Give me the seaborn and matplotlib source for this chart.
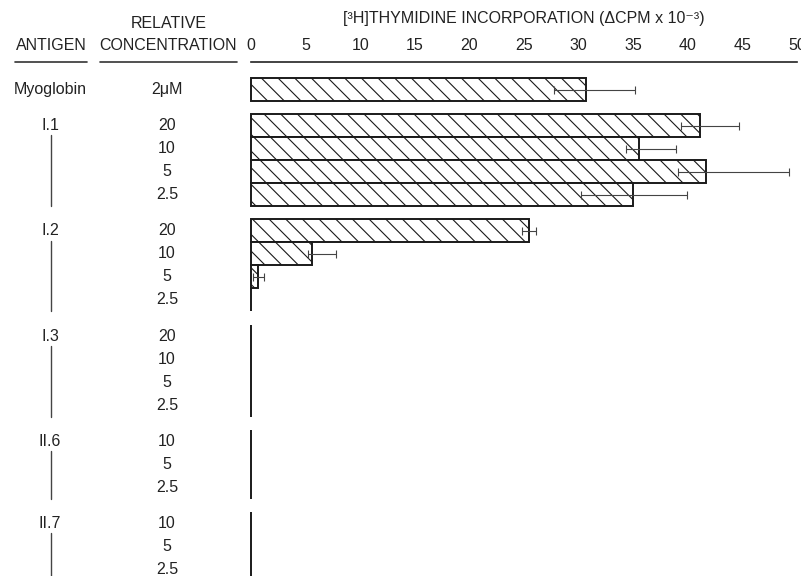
import numpy as np
import pandas as pd
import matplotlib.pyplot as plt
import matplotlib.transforms as mtransforms
import seaborn as sns

# data
antigen_groups = ["Myoglobin", "I.1", "I.2", "I.3", "II.6", "II.7"]
group_sizes = [1, 4, 4, 4, 3, 3]
concentrations = ["2μM",
                  "20", "10", "5", "2.5",
                  "20", "10", "5", "2.5",
                  "20", "10", "5", "2.5",
                  "10", "5", "2.5",
                  "10", "5", "2.5"]
cpm = [30.7,
       41.1, 35.5, 41.6, 35.0,
       25.4, 5.55, 0.67, 0.0,
       0.0, 0.0, 0.0, 0.0,
       0.0, 0.0, 0.0,
       0.0, 0.0, 0.0]
err_low = [27.7,
           39.4, 34.3, 39.1, 30.2,
           24.8, 5.25, 0.2, np.nan,
           np.nan, np.nan, np.nan, np.nan,
           np.nan, np.nan, np.nan,
           np.nan, np.nan, np.nan]
err_high = [35.1,
            44.7, 38.9, 49.2, 39.9,
            26.1, 7.8, 1.2, np.nan,
            np.nan, np.nan, np.nan, np.nan,
            np.nan, np.nan, np.nan,
            np.nan, np.nan, np.nan]
xticks = list(range(0, 51, 5))

# row positions: one unit per row, extra gap between antigen groups
group_index = np.repeat(np.arange(len(group_sizes)), group_sizes)
pos = np.arange(len(cpm)) + 0.57 * group_index

df = pd.DataFrame({"pos": pos, "cpm": cpm, "low": err_low, "high": err_high,
                   "conc": concentrations})

sns.set_style("white")
plt.rcParams['font.family'] = ['Liberation Sans', 'DejaVu Sans']
plt.rcParams['hatch.linewidth'] = 0.8
plt.rcParams['hatch.color'] = '#222222'
text_color = '#222222'
fs = 11.5

fig = plt.figure(figsize=(8.01, 5.76), dpi=100)
ax = fig.add_axes([251 / 801, 0.0, 546.3 / 801, 1 - 62.3 / 576])

sns.barplot(data=df, x="cpm", y="pos", orient="h", native_scale=True,
            width=1, color="white", edgecolor="#1a1a1a", linewidth=1.4,
            hatch="\\\\", errorbar=None, clip_on=False, ax=ax)

# error bars
m = df["low"].notna()
ax.errorbar(df.loc[m, "cpm"], df.loc[m, "pos"],
            xerr=[df.loc[m, "cpm"] - df.loc[m, "low"], df.loc[m, "high"] - df.loc[m, "cpm"]],
            fmt="none", ecolor="#444444", elinewidth=0.8, capsize=3, capthick=0.8)

ax.set_xlim(0, 50)
ax.set_ylim(21.14, -1.19)
ax.set_yticks([])
ax.set_xlabel("")
ax.set_ylabel("")
ax.xaxis.tick_top()
ax.set_xticks(xticks)
ax.set_xticklabels([str(t) for t in xticks])
ax.tick_params(axis='x', direction='in', length=5.5, width=1, pad=7,
               labelsize=fs, colors=text_color)
sns.despine(ax=ax, top=False, right=True, left=True, bottom=True)
ax.spines['top'].set_linewidth(1.2)
ax.spines['top'].set_color('#222222')

# axis title
fig.text(524 / 801, 1 - 19 / 576, "[³H]THYMIDINE INCORPORATION (ΔCPM x 10⁻³)",
         ha='center', va='center', fontsize=fs, color=text_color)

# column headers
fig.text(51 / 801, 1 - 46 / 576, "ANTIGEN", ha='center', va='center',
         fontsize=fs, color=text_color)
fig.text(169 / 801, 1 - 23 / 576, "RELATIVE", ha='center', va='center',
         fontsize=fs, color=text_color)
fig.text(168.5 / 801, 1 - 46 / 576, "CONCENTRATION", ha='center', va='center',
         fontsize=fs, color=text_color)
y_rule = 1 - 61.7 / 576
fig.add_artist(plt.Line2D([15 / 801, 87 / 801], [y_rule, y_rule], color='#333333', lw=1.2))
fig.add_artist(plt.Line2D([100 / 801, 237 / 801], [y_rule, y_rule], color='#333333', lw=1.2))

# row labels
trans = mtransforms.blended_transform_factory(fig.transFigure, ax.transData)
for p, c in zip(df["pos"], df["conc"]):
    ax.text(167 / 801, p, c, transform=trans, ha='center', va='center',
            fontsize=fs, color=text_color, clip_on=False)

start = 0
for name, size in zip(antigen_groups, group_sizes):
    first = pos[start]
    last = pos[start + size - 1]
    ax.text(50 / 801, first, name, transform=trans, ha='center', va='center',
            fontsize=fs, color=text_color, clip_on=False)
    if size > 1:
        ax.plot([51 / 801, 51 / 801], [first + 0.42, last + 0.5], transform=trans,
                color='#444444', lw=1.0, clip_on=False)
    start += size

fig.savefig("out.png", dpi=100)
